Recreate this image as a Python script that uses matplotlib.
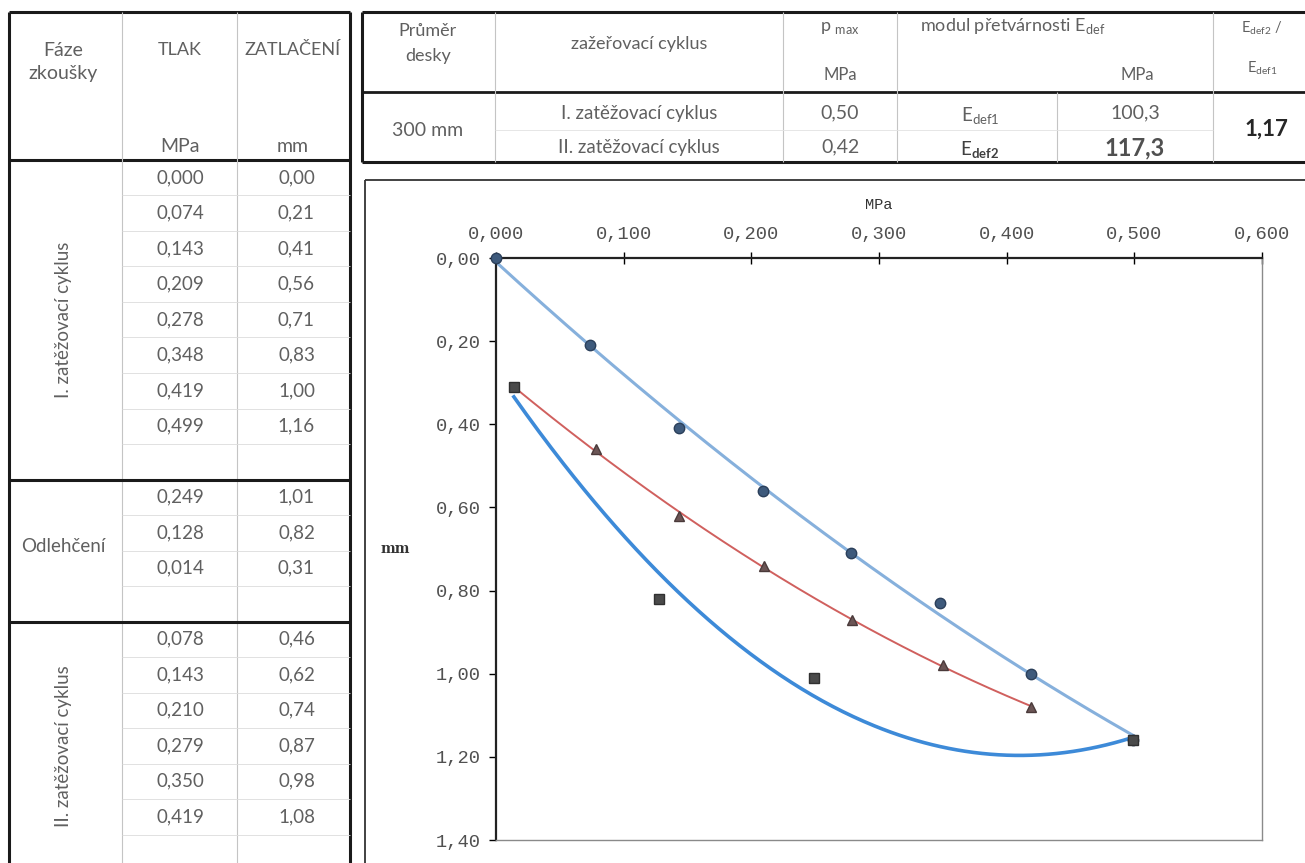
#! -*- coding: utf-8 -*-

#---------------------------------
# imports
#---------------------------------
import numpy as np
import matplotlib
matplotlib.use('Agg')
import matplotlib.pyplot as plt
from matplotlib.ticker import FuncFormatter

#---------------------------------
# data
#---------------------------------
# I. zatezovaci cyklus
tlak_1 = [0.000, 0.074, 0.143, 0.209, 0.278, 0.348, 0.419, 0.499]
zatl_1 = [0.00, 0.21, 0.41, 0.56, 0.71, 0.83, 1.00, 1.16]
# Odlehceni
tlak_odl = [0.249, 0.128, 0.014]
zatl_odl = [1.01, 0.82, 0.31]
# II. zatezovaci cyklus
tlak_2 = [0.078, 0.143, 0.210, 0.279, 0.350, 0.419]
zatl_2 = [0.46, 0.62, 0.74, 0.87, 0.98, 1.08]

faze = ['I. zatěžovací cyklus', 'Odlehčení', 'II. zatěžovací cyklus']

prumer = '300 mm'
cykly = ['I. zatěžovací cyklus', 'II. zatěžovací cyklus']
p_max = [0.50, 0.42]
e_def = [100.3, 117.3]
pomer = 1.17

x_ticks = [0.0, 0.1, 0.2, 0.3, 0.4, 0.5, 0.6]
y_ticks = [0.0, 0.2, 0.4, 0.6, 0.8, 1.0, 1.2, 1.4]

W, H = 1305, 863
TXT = '#606060'
ROW = 35.5

#---------------------------------
# functions
#---------------------------------
def fmt(v, n):
	return f'{v:.{n}f}'.replace('.', ',')

def hline(bg, y, x0, x1, lw=2.2, c='#1a1a1a'):
	bg.plot([x0, x1], [y, y], color=c, lw=lw, solid_capstyle='butt')

def vline(bg, x, y0, y1, lw=2.2, c='#1a1a1a'):
	bg.plot([x, x], [y0, y1], color=c, lw=lw, solid_capstyle='butt')

def txt(bg, x, y, s, size=13.5, **kw):
	kw.setdefault('color', TXT)
	bg.text(x, y, s, ha=kw.pop('ha', 'center'), va='center', fontsize=size, **kw)

def left_table(bg):
	# --- frame ---
	vline(bg, 9, 12, H + 5)
	vline(bg, 350, 12, H + 5)
	hline(bg, 12, 9, 350)
	hline(bg, 160, 9, 350)
	vline(bg, 122, 12, H + 5, lw=0.8, c='#c4c4c4')
	vline(bg, 237, 12, H + 5, lw=0.8, c='#c4c4c4')

	# --- header ---
	txt(bg, 63, 50, 'Fáze', 14)
	txt(bg, 63, 73, 'zkoušky', 14)
	txt(bg, 180, 50, 'TLAK', 13)
	txt(bg, 293, 50, 'ZATLAČENÍ', 13)
	txt(bg, 180, 146, 'MPa', 14)
	txt(bg, 293, 146, 'mm', 14)

	# --- sections ---
	sections = [(tlak_1, zatl_1), (tlak_odl, zatl_odl), (tlak_2, zatl_2)]
	top = 160
	for i, (tl, za) in enumerate(sections):
		n = len(tl) + 1
		bottom = top + n * ROW
		for j in range(n):
			yc = top + (j + 0.5) * ROW
			if j < len(tl):
				txt(bg, 180, yc, fmt(tl[j], 3))
				txt(bg, 315, yc, fmt(za[j], 2), ha='right')
			if j > 0:
				hline(bg, top + j * ROW, 122, 350, lw=0.6, c='#dcdcdc')
		if i == 1:
			# Odlehceni is written horizontally
			txt(bg, 63, top + 2 * ROW - 4, faze[i])
		else:
			txt(bg, 63, top + (len(tl) + 1) * ROW / 2, faze[i], rotation=90)
		if bottom < H:
			hline(bg, bottom, 9, 350)
		top = bottom

def right_table(bg):
	x0, x1 = 362, W + 5
	y0, ym, y1 = 12, 92, 162
	hline(bg, y0, x0, x1)
	hline(bg, ym, x0, x1, lw=2.0)
	hline(bg, y1, x0, x1)
	vline(bg, x0, y0, y1)
	for x in [495, 783, 897, 1213]:
		vline(bg, x, y0, y1, lw=0.8, c='#c4c4c4')
	vline(bg, 1057, ym, y1, lw=0.8, c='#c4c4c4')
	hline(bg, 130, 495, 1213, lw=0.6, c='#e2e2e2')

	# --- header ---
	txt(bg, 428, 31, 'Průměr', 13)
	txt(bg, 428, 56, 'desky', 13)
	txt(bg, 639, 44, 'zažeřovací cyklus', 13)
	txt(bg, 840, 28, r'p $_{\mathrm{max}}$', 13)
	txt(bg, 840, 75, 'MPa', 12)
	txt(bg, 1013, 26, r'modul přetvárnosti E$_{\mathrm{def}}$', 13)
	txt(bg, 1137, 75, 'MPa', 12)
	txt(bg, 1262, 28, r'E$_{\mathrm{def2}}$ /', 10.5)
	txt(bg, 1262, 68, r'E$_{\mathrm{def1}}$', 10.5)

	# --- values ---
	rows = [113, 147]
	txt(bg, 428, 131, prumer, 14)
	for k in range(2):
		txt(bg, 639, rows[k], cykly[k])
		txt(bg, 840, rows[k], fmt(p_max[k], 2), 14)
	txt(bg, 980, rows[0] + 3, r'E$_{\mathrm{def1}}$')
	txt(bg, 980, rows[1] + 3, r'E$_{\mathbf{def2}}$', color='#404040')
	txt(bg, 1135, rows[0], fmt(e_def[0], 1), 14)
	txt(bg, 1135, rows[1] + 1, fmt(e_def[1], 1), 17, fontweight='bold', color='#505050')
	txt(bg, 1266, 129, fmt(pomer, 2), 16, fontweight='bold', color='#262626')

def trend(x, y, deg=2):
	c = np.polyfit(x, y, deg)
	xs = np.linspace(min(x), max(x), 300)
	return xs, np.polyval(c, xs)

def chart(fig, bg):
	# --- outer frame ---
	hline(bg, 180, 365, W + 5, lw=1.3, c='#333333')
	vline(bg, 365, 180, H + 5, lw=1.3, c='#333333')

	ax = fig.add_axes([496 / W, 1 - 840 / H, (1262 - 496) / W, (840 - 258) / H])
	ax.set_xlim(0, 0.6)
	ax.set_ylim(1.4, 0)
	ax.xaxis.tick_top()
	ax.xaxis.set_label_position('top')
	ax.set_xticks(x_ticks)
	ax.set_yticks(y_ticks)
	ax.xaxis.set_major_formatter(FuncFormatter(lambda v, p: fmt(v, 3)))
	ax.yaxis.set_major_formatter(FuncFormatter(lambda v, p: fmt(v, 2)))
	ax.tick_params(axis='x', direction='inout', length=8, width=1, pad=7, labelsize=13.5,
			labelcolor='#505050', labelfontfamily='Liberation Mono')
	ax.tick_params(axis='y', direction='out', length=5, width=1, pad=6, labelsize=13.5,
			labelcolor='#505050', labelfontfamily='Liberation Mono')
	for s in ['top', 'left']:
		ax.spines[s].set_linewidth(1.6)
		ax.spines[s].set_color('#222222')
	for s in ['right', 'bottom']:
		ax.spines[s].set_linewidth(1.0)
		ax.spines[s].set_color('#8a8a8a')
	ax.set_xlabel('MPa', fontsize=11, family='Liberation Mono', color='#333333', labelpad=12)
	ax.set_ylabel('mm', fontsize=10, family='DejaVu Serif', fontweight='bold', rotation=0,
			color='#333333', va='center', ha='center')
	ax.yaxis.set_label_coords(-0.131, 0.5)

	# --- series ---
	un_x = [tlak_1[-1]] + tlak_odl
	un_y = [zatl_1[-1]] + zatl_odl
	re_x = [tlak_odl[-1]] + tlak_2
	re_y = [zatl_odl[-1]] + zatl_2

	xs, ys = trend(tlak_1, zatl_1)
	ax.plot(xs, ys, color='#86b0dc', lw=2.2, zorder=2)
	xs, ys = trend(un_x, un_y)
	ax.plot(xs, ys, color='#3d8ad8', lw=2.6, zorder=2)
	xs, ys = trend(re_x, re_y)
	ax.plot(xs, ys, color='#d0605e', lw=1.4, zorder=2)

	ax.plot(tlak_1, zatl_1, 'o', ms=7.5, color='#3e5a7c', mec='#2b3f5a', zorder=3, clip_on=False)
	ax.plot(tlak_2, zatl_2, '^', ms=7, color='#6b5555', mec='#4a3a3a', zorder=3)
	ax.plot(un_x, un_y, 's', ms=6.5, color='#4a4a4a', mec='#303030', zorder=3)

def main():
	plt.rcParams['font.family'] = ['Lato', 'DejaVu Sans']
	plt.rcParams['mathtext.fontset'] = 'custom'
	plt.rcParams['mathtext.rm'] = 'Lato'
	plt.rcParams['mathtext.bf'] = 'Lato:bold'

	fig = plt.figure(figsize=(W / 100, H / 100), dpi=100)
	bg = fig.add_axes([0, 0, 1, 1])
	bg.set_xlim(0, W)
	bg.set_ylim(H, 0)
	bg.axis('off')

	left_table(bg)
	right_table(bg)
	chart(fig, bg)

	fig.savefig('out.png', dpi=100)
	plt.close(fig)

#---------------------------------
# main
#---------------------------------
if __name__ == '__main__':
	main()
